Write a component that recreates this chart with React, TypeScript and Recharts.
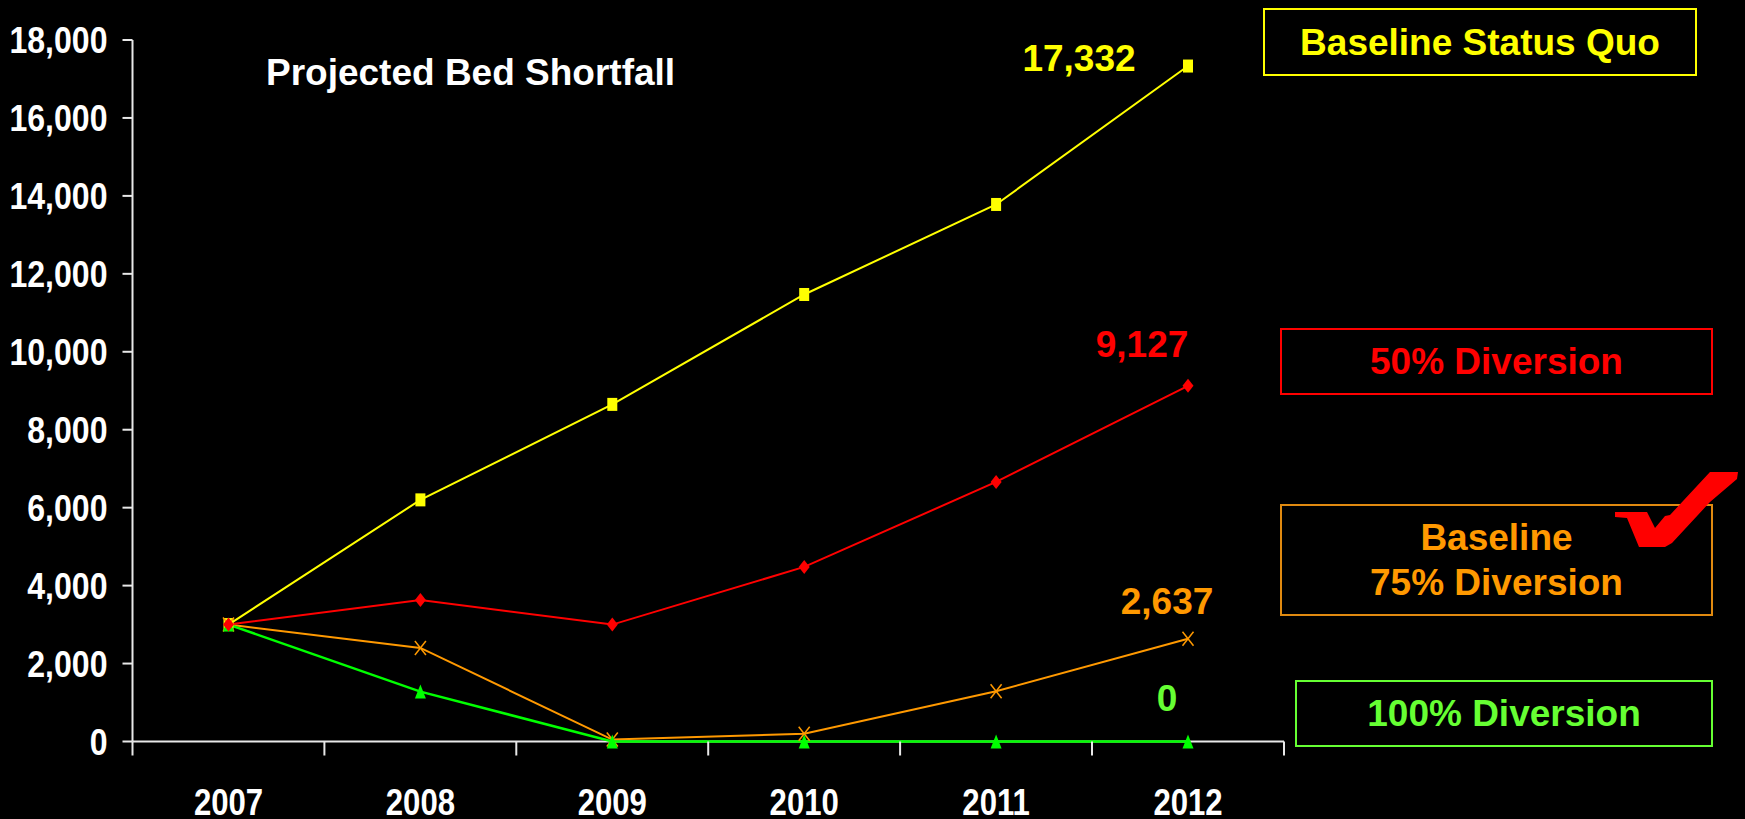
import React from "react";
import { LineChart, Line, XAxis, YAxis, LabelList, ReferenceLine } from "recharts";

const YEARS = ["2007", "2008", "2009", "2010", "2011", "2012"];
const STATUS_QUO = [3000, 6200, 8650, 11470, 13780, 17332];
const DIVERSION_50 = [3000, 3630, 3000, 4480, 6660, 9127];
const DIVERSION_75 = [3000, 2400, 50, 200, 1290, 2637];
const DIVERSION_100 = [3000, 1280, 0, 0, 0, 0];
const Y_TICKS = [0, 2000, 4000, 6000, 8000, 10000, 12000, 14000, 16000, 18000];

const data = YEARS.map((year, i) => ({
  year,
  quo: STATUS_QUO[i],
  d50: DIVERSION_50[i],
  d75: DIVERSION_75[i],
  d100: DIVERSION_100[i],
}));

const W = 1745;
const H = 819;
const AXIS = "#e8e8e8";
const YELLOW = "#ffff00";
const RED = "#ff0000";
const ORANGE = "#ff9900";
const GREEN = "#00ff00";
const LIME = "#66ff33";
const SANS = '"Liberation Sans", Arial, sans-serif';
const HALF_BAND = 96;

// no narrow font installed, squeeze the bold one
function NarrowText({ x, y, anchor, squeeze, children }: any) {
  return (
    <text
      transform={`translate(${x},${y}) scale(${squeeze},1)`}
      textAnchor={anchor}
      fill="#fff"
      fontSize={37.5}
      fontWeight={700}
      fontFamily={SANS}
    >
      {children}
    </text>
  );
}

// x ticks sit between the years, labels stay under the point
function YearTick({ x, y, index, payload }: any) {
  const top = y - 8;
  return (
    <g>
      <line x1={x - HALF_BAND} x2={x - HALF_BAND} y1={top} y2={top + 14} stroke={AXIS} strokeWidth={2} />
      {index === YEARS.length - 1 && (
        <line x1={x + HALF_BAND} x2={x + HALF_BAND} y1={top} y2={top + 14} stroke={AXIS} strokeWidth={2} />
      )}
      <NarrowText x={x} y={top + 73} anchor="middle" squeeze={0.83}>
        {payload.value}
      </NarrowText>
    </g>
  );
}

function ValueTick({ x, y, payload }: any) {
  return (
    <NarrowText x={x} y={y + 13} anchor="end" squeeze={0.855}>
      {payload.value.toLocaleString("en-US")}
    </NarrowText>
  );
}

const squareDot = (p: any) => <rect key={p.index} x={p.cx - 5} y={p.cy - 6.5} width={10} height={13} fill={YELLOW} />;

const diamondDot = (p: any) => (
  <path key={p.index} d={`M${p.cx} ${p.cy - 7}L${p.cx + 5.5} ${p.cy}L${p.cx} ${p.cy + 7}L${p.cx - 5.5} ${p.cy}Z`} fill={RED} />
);

const triangleDot = (p: any) => (
  <path key={p.index} d={`M${p.cx} ${p.cy - 7}L${p.cx + 5.5} ${p.cy + 7}L${p.cx - 5.5} ${p.cy + 7}Z`} fill={GREEN} />
);

const crossDot = (p: any) => (
  <g key={p.index} stroke={ORANGE} strokeWidth={1.5}>
    <line x1={p.cx - 5.5} x2={p.cx + 5.5} y1={p.cy - 7} y2={p.cy + 7} />
    <line x1={p.cx - 5.5} x2={p.cx + 5.5} y1={p.cy + 7} y2={p.cy - 7} />
  </g>
);

// only the 2012 point carries a value label
const endLabel = (color: string, dx: number, dy: number) => (p: any) => {
  if (p.index !== YEARS.length - 1) return null;
  return (
    <text x={p.x + dx} y={p.y + dy} textAnchor="middle" dominantBaseline="central" fill={color} fontSize={37} fontWeight={700} fontFamily={SANS}>
      {Number(p.value).toLocaleString("en-US")}
    </text>
  );
};

function Box({ left, top, width, height, color, text, lines }: any) {
  return (
    <div
      style={{
        position: "absolute",
        left,
        top,
        width,
        height,
        boxSizing: "border-box",
        border: `2px solid ${lines ?? color}`,
        color,
        font: `700 37px/45px ${SANS}`,
        display: "flex",
        alignItems: "center",
        justifyContent: "center",
        textAlign: "center",
        whiteSpace: "pre",
      }}
    >
      {text}
    </div>
  );
}

export default function App() {
  return (
    <div style={{ position: "absolute", left: 0, top: 0, width: W, height: H, background: "#000", overflow: "hidden" }}>
      <LineChart width={W} height={H} data={data} margin={{ left: 0, right: 461, top: 40, bottom: 0 }}>
        <XAxis
          dataKey="year"
          height={77.5}
          padding={{ left: HALF_BAND, right: HALF_BAND }}
          axisLine={false}
          tickLine={false}
          tick={<YearTick />}
          interval={0}
        />
        <YAxis
          width={132.5}
          domain={[0, 18000]}
          ticks={Y_TICKS}
          interval={0}
          axisLine={{ stroke: AXIS, strokeWidth: 2 }}
          tickLine={{ stroke: AXIS, strokeWidth: 2 }}
          tickSize={10}
          tickMargin={15}
          tick={<ValueTick />}
        />
        {/* baseline as a reference line so the 100% series stays on top of it */}
        <ReferenceLine y={0} stroke={AXIS} strokeWidth={2} />
        <Line isAnimationActive={false} dataKey="quo" stroke={YELLOW} strokeWidth={2} dot={squareDot}>
          <LabelList dataKey="quo" content={endLabel(YELLOW, -109, -8)} />
        </Line>
        <Line isAnimationActive={false} dataKey="d75" stroke={ORANGE} strokeWidth={2} dot={crossDot}>
          <LabelList dataKey="d75" content={endLabel(ORANGE, -21, -37)} />
        </Line>
        <Line isAnimationActive={false} dataKey="d100" stroke={GREEN} strokeWidth={2.5} dot={triangleDot}>
          <LabelList dataKey="d100" content={endLabel(LIME, -21, -43)} />
        </Line>
        <Line isAnimationActive={false} dataKey="d50" stroke={RED} strokeWidth={2} dot={diamondDot}>
          <LabelList dataKey="d50" content={endLabel(RED, -46, -41)} />
        </Line>
      </LineChart>

      <div style={{ position: "absolute", left: 266, top: 50, color: "#fff", font: `700 37px/45px ${SANS}`, whiteSpace: "pre" }}>
        Projected Bed Shortfall
      </div>

      <Box left={1263} top={8} width={434} height={68} color={YELLOW} text="Baseline Status Quo" />
      <Box left={1280} top={328} width={433} height={67} color={RED} text="50% Diversion" />
      <Box left={1280} top={504} width={433} height={112} color={ORANGE} lines="#e08a10" text={"Baseline\n75% Diversion"} />
      <Box left={1295} top={680} width={418} height={67} color={LIME} text="100% Diversion" />

      <svg width={W} height={H} style={{ position: "absolute", left: 0, top: 0, pointerEvents: "none" }}>
        <path
          d="M1615 512 L1647 512 L1655 528 L1665 516 L1670 515 L1710 472 L1738 472 L1737 479 L1710 502 L1672 543 L1665 547 L1639 547 L1627 518 L1615 517 Z"
          fill={RED}
        />
      </svg>
    </div>
  );
}
